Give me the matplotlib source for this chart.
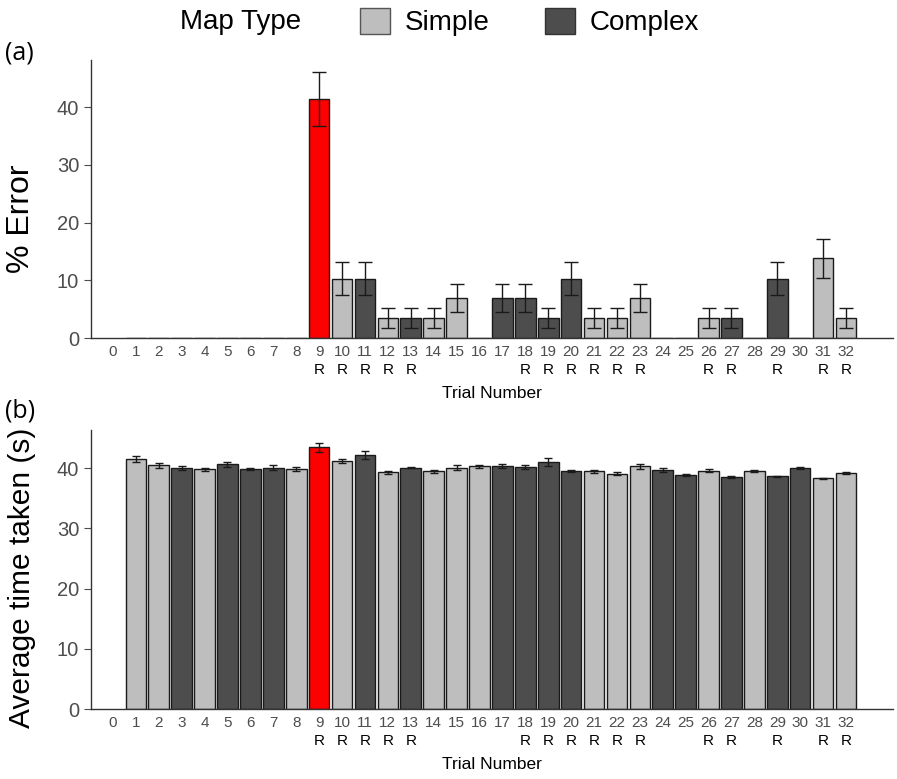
import matplotlib
matplotlib.use('Agg')
import matplotlib.pyplot as plt
from matplotlib.patches import Patch
from matplotlib.transforms import blended_transform_factory

plt.rcParams['font.family'] = ['Liberation Sans', 'DejaVu Sans']

# trials 1..32 (trial 0 has no bar)
trials = list(range(1, 33))
tick_trials = list(range(0, 33))
map_type = ['S', 'S', 'C', 'S', 'C', 'C', 'C', 'S', 'X', 'S', 'C', 'S', 'C', 'S', 'S', 'S',
            'C', 'C', 'C', 'C', 'S', 'S', 'S', 'C', 'C', 'S', 'C', 'S', 'C', 'C', 'S', 'S']
repeat_trials = [9, 10, 11, 12, 13, 18, 19, 20, 21, 22, 23, 26, 27, 29, 31, 32]

pct_error = [0, 0, 0, 0, 0, 0, 0, 0, 41.4, 10.3, 10.3, 3.45, 3.45, 3.45, 6.9, 0,
             6.9, 6.9, 3.45, 10.3, 3.45, 3.45, 6.9, 0, 0, 3.45, 3.45, 0, 10.3, 0, 13.8, 3.45]
pct_error_se = [0, 0, 0, 0, 0, 0, 0, 0, 4.7, 2.9, 2.9, 1.7, 1.7, 1.7, 2.4, 0,
                2.4, 2.4, 1.7, 2.9, 1.7, 1.7, 2.4, 0, 0, 1.7, 1.7, 0, 2.9, 0, 3.3, 1.7]

avg_time = [41.55, 40.44, 40.06, 39.78, 40.66, 39.83, 40.1, 39.83, 43.5, 41.2, 42.16, 39.3,
            40.1, 39.45, 40.1, 40.28, 40.33, 40.17, 41.0, 39.5, 39.45, 39.1, 40.28, 39.72,
            38.84, 39.6, 38.56, 39.5, 38.67, 40.0, 38.34, 39.22]
avg_time_se = [0.47, 0.44, 0.3, 0.3, 0.4, 0.2, 0.4, 0.3, 0.75, 0.35, 0.6, 0.3, 0.15, 0.25,
               0.4, 0.3, 0.3, 0.3, 0.7, 0.15, 0.2, 0.2, 0.35, 0.3, 0.1, 0.3, 0.15, 0.15,
               0.1, 0.15, 0.1, 0.15]

colors = {'S': '#BEBEBE', 'C': '#4D4D4D', 'X': '#FF0000'}
bar_colors = [colors[t] for t in map_type]

fig = plt.figure(figsize=(8.97, 7.79), dpi=100)
ax1 = fig.add_axes([0.1014, 0.566, 0.8941, 0.357])
ax2 = fig.add_axes([0.1014, 0.0898, 0.8941, 0.358])


def style_axes(ax, values, se, ylim, ylabel, capsize, ylabel_size):
    ax.bar(trials, values, width=0.9, color=bar_colors, edgecolor='#1a1a1a', linewidth=1.0, zorder=2)
    idx = [i for i, s in enumerate(se) if s > 0]
    ax.errorbar([trials[i] for i in idx], [values[i] for i in idx], yerr=[se[i] for i in idx],
                fmt='none', ecolor='#1a1a1a', elinewidth=1.0, capsize=capsize, capthick=1.0, zorder=3)
    ax.set_xlim(-0.96, 34.05)
    ax.set_ylim(0, ylim)
    for s in ['top', 'right']:
        ax.spines[s].set_visible(False)
    for s in ['left', 'bottom']:
        ax.spines[s].set_color('#333333')
        ax.spines[s].set_linewidth(1.0)
    ax.set_yticks([0, 10, 20, 30, 40])
    ax.tick_params(axis='y', labelsize=14.5, labelcolor='#4D4D4D', color='#4D4D4D', length=5, width=0.8)
    ax.set_xticks(tick_trials)
    ax.set_xticklabels([str(t) for t in tick_trials])
    ax.tick_params(axis='x', which='major', length=0, pad=5, labelsize=11, labelcolor='#4D4D4D')
    ax.set_xticks([0, 10, 20, 30], minor=True)
    ax.tick_params(axis='x', which='minor', length=4, width=0.8, color='#4D4D4D')
    trans = blended_transform_factory(ax.transData, ax.transAxes)
    for t in repeat_trials:
        ax.text(t, -0.113, 'R', transform=trans, ha='center', va='center', fontsize=11, color='black')
    ax.text(0.5, -0.2, 'Trial Number', transform=ax.transAxes, ha='center', va='center', fontsize=12.5)
    ax.set_ylabel(ylabel, fontsize=ylabel_size)


style_axes(ax1, pct_error, pct_error_se, 48.2, '% Error', 5, 23)
style_axes(ax2, avg_time, avg_time_se, 46.3, 'Average time taken (s)', 3.2, 21.5)
ax1.yaxis.set_label_coords(-0.068, 0.43)
ax2.yaxis.set_label_coords(-0.068, 0.47)

fig.text(0.006, 0.932, '(a)', fontsize=18, family=['Open Sans', 'DejaVu Sans'], va='center')
fig.text(0.006, 0.473, '(b)', fontsize=18, family=['Open Sans', 'DejaVu Sans'], va='center')

fig.text(0.2007, 0.9718, 'Map Type', fontsize=20, va='center')
handles = [Patch(facecolor=colors['S'], edgecolor='#555555', label='Simple'),
           Patch(facecolor=colors['C'], edgecolor='#333333', label='Complex')]
fig.legend(handles=handles, loc='center left', bbox_to_anchor=(0.4013, 0.9718), ncol=2, frameon=False,
           fontsize=20, borderpad=0, borderaxespad=0, handlelength=1.08, handleheight=1.1,
           columnspacing=1.98, handletextpad=0.54)

fig.savefig('out.png', dpi=100)
